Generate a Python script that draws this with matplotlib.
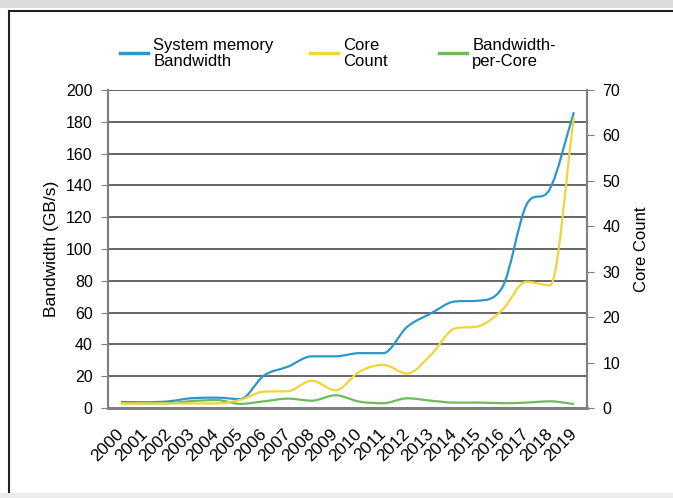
import matplotlib.pyplot as plt
import numpy as np
from matplotlib.lines import Line2D
from matplotlib.patches import PathPatch, Rectangle
from matplotlib.path import Path

plt.rcParams["font.family"] = ["Liberation Sans", "DejaVu Sans"]

# values
years = list(range(2000, 2020))
bandwidth = [3.8, 3.6, 4.2, 6.2, 6.5, 5.6, 20.5, 26.0, 32.5, 32.5,
             34.5, 34.5, 51.0, 59.5, 67.0, 67.5, 76.0, 127.5, 138.0, 186.0]
core_count = [1, 1, 1, 1, 1, 1.8, 3.6, 3.7, 6.0, 3.9,
              8.0, 9.5, 7.6, 11.7, 17.5, 18.0, 21.6, 27.8, 27.0, 64.0]
bw_per_core = [3.0, 2.9, 3.0, 4.4, 5.0, 2.6, 4.2, 5.9, 4.6, 8.0,
               4.0, 3.0, 6.1, 4.6, 3.4, 3.4, 3.0, 3.4, 4.2, 2.5]

bw_ticks = list(range(0, 201, 20))
core_ticks = list(range(0, 71, 10))

blue = "#2b97cc"
yellow = "#f0d43a"
green = "#6cbd5a"


def smooth_path(x, y):
    # smoothed line: cubic bezier, catmull-rom tangents with a monotone limit
    x = np.asarray(x, float)
    y = np.asarray(y, float)
    n = len(x)
    d = np.diff(y) / np.diff(x)
    m = np.empty(n)
    m[0], m[-1] = d[0], d[-1]
    for i in range(1, n - 1):
        if d[i - 1] * d[i] <= 0:
            m[i] = 0.0
        else:
            cr = (y[i + 1] - y[i - 1]) / (x[i + 1] - x[i - 1])
            lim = 3 * min(abs(d[i - 1]), abs(d[i]))
            m[i] = np.sign(cr) * min(abs(cr), lim)
    verts = [(x[0], y[0])]
    codes = [Path.MOVETO]
    for i in range(n - 1):
        h = (x[i + 1] - x[i]) / 3
        verts += [(x[i] + h, y[i] + m[i] * h),
                  (x[i + 1] - h, y[i + 1] - m[i + 1] * h),
                  (x[i + 1], y[i + 1])]
        codes += [Path.CURVE4] * 3
    return Path(verts, codes)


fig = plt.figure(figsize=(6.73, 4.98), dpi=100)
ax = fig.add_axes([108 / 673, 1 - 408 / 498, 479 / 673, 318 / 498])
ax2 = ax.twinx()

ax.add_patch(PathPatch(smooth_path(years, bandwidth), fill=False,
                       edgecolor=blue, lw=1.6, zorder=3))
ax.add_patch(PathPatch(smooth_path(years, bw_per_core), fill=False,
                       edgecolor=green, lw=1.6, zorder=3))
ax2.add_patch(PathPatch(smooth_path(years, core_count), fill=False,
                        edgecolor=yellow, lw=1.6, zorder=3))

ax.set_xlim(1999.45, 2019.55)
ax.set_ylim(0, 200)
ax2.set_ylim(0, 70)
ax.set_yticks(bw_ticks)
ax2.set_yticks(core_ticks)
ax.set_xticks(years)
ax.set_xticklabels([str(y) for y in years], rotation=45, ha="right",
                   va="center", rotation_mode="anchor", fontsize=12.5)
ax.tick_params(axis="x", length=0, pad=17)
ax.tick_params(axis="y", length=5, color="#808080", labelsize=11.5, pad=6)
ax2.tick_params(axis="y", length=5, color="#808080", labelsize=11.5, pad=6)

ax.grid(axis="y", color="#3c3c3c", lw=1.1)
ax.set_axisbelow(True)
for a in (ax, ax2):
    a.spines["top"].set_visible(False)
    a.spines["left"].set_color("#808080")
    a.spines["right"].set_color("#808080")
    a.spines["bottom"].set_color("#808080")
    a.spines["left"].set_linewidth(1.5)
    a.spines["right"].set_linewidth(1.5)
    a.spines["bottom"].set_linewidth(2)

ax.set_ylabel("Bandwidth (GB/s)", fontsize=12.5, labelpad=5)
ax2.set_ylabel("Core Count", fontsize=12, labelpad=10)

# legend: three entries laid out like the original
entries = [(blue, "System memory\nBandwidth", 120),
           (yellow, "Core\nCount", 310),
           (green, "Bandwidth-\nper-Core", 439)]
for color, label, xpix in entries:
    leg = fig.legend([Line2D([], [], color=color, lw=2.5)], [label],
                     loc="upper left", bbox_to_anchor=(xpix / 673, 1 - 38 / 498),
                     frameon=False, fontsize=12, handlelength=1.7,
                     handletextpad=0.3, borderpad=0, borderaxespad=0)
    for t in leg.get_texts():
        t.set_linespacing(1.05)

# page frame of the original scan
fig.add_artist(Rectangle((0, 1 - 8 / 498), 1, 8 / 498, transform=fig.transFigure,
                         color="#dcdcdc", lw=0))
fig.add_artist(Line2D([9 / 673, 1], [1 - 11 / 498, 1 - 11 / 498],
                      transform=fig.transFigure, color="#222222", lw=1.5))
fig.add_artist(Line2D([9 / 673, 9 / 673], [1 - 11 / 498, 6 / 498],
                      transform=fig.transFigure, color="#222222", lw=1.5))
fig.add_artist(Rectangle((0, 0), 1, 5 / 498, transform=fig.transFigure,
                         color="#ececec", lw=0))

fig.savefig("out.png", dpi=100)
